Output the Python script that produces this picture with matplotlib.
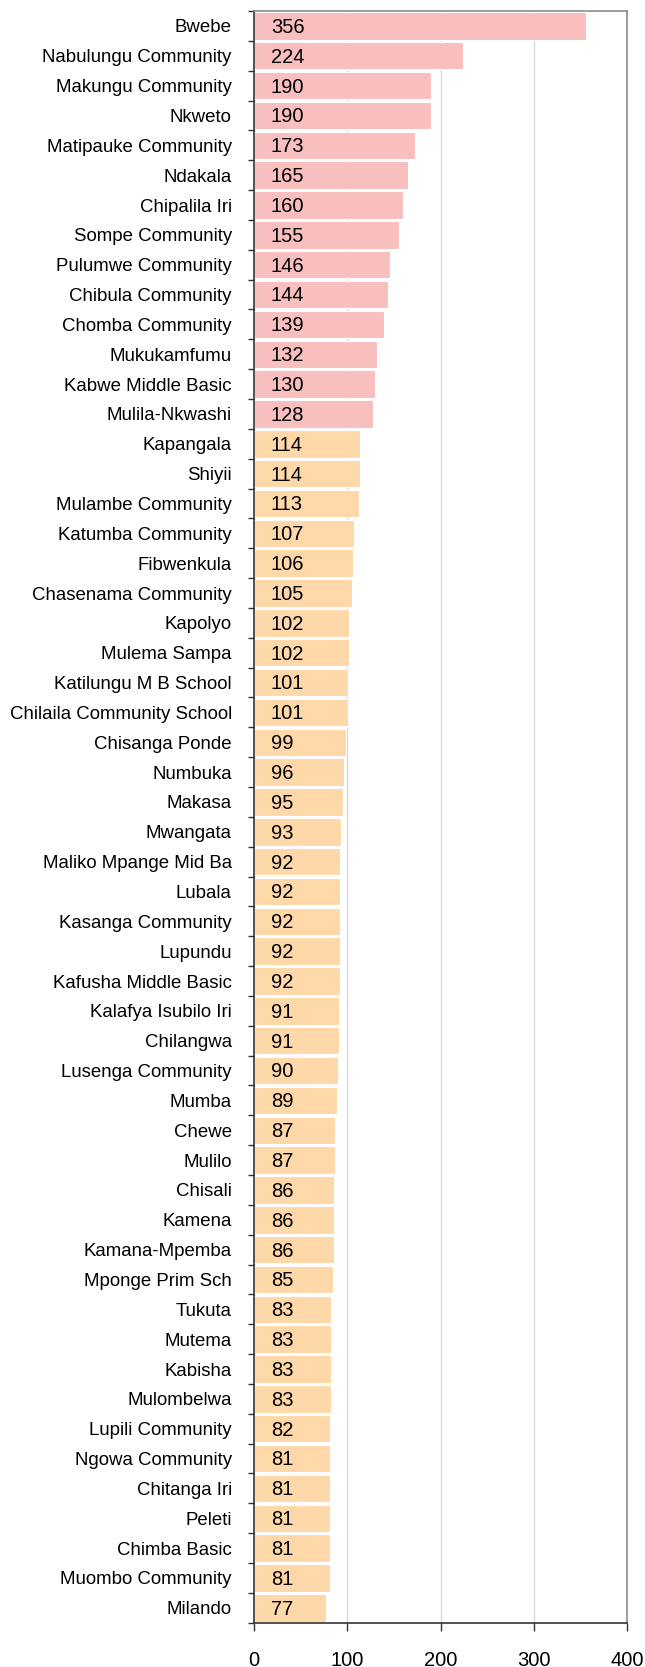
import matplotlib
matplotlib.use("Agg")
import matplotlib.pyplot as plt
from matplotlib.ticker import FixedLocator
import numpy as np

categories = ["Bwebe", "Nabulungu Community", "Makungu Community", "Nkweto",
              "Matipauke Community", "Ndakala", "Chipalila Iri", "Sompe Community",
              "Pulumwe Community", "Chibula Community", "Chomba Community",
              "Mukukamfumu", "Kabwe Middle Basic", "Mulila-Nkwashi",
              "Kapangala", "Shiyii", "Mulambe Community", "Katumba Community",
              "Fibwenkula", "Chasenama Community", "Kapolyo", "Mulema Sampa",
              "Katilungu M B School", "Chilaila Community School", "Chisanga Ponde",
              "Numbuka", "Makasa", "Mwangata", "Maliko Mpange Mid Ba", "Lubala",
              "Kasanga Community", "Lupundu", "Kafusha Middle Basic",
              "Kalafya Isubilo Iri", "Chilangwa", "Lusenga Community", "Mumba",
              "Chewe", "Mulilo", "Chisali", "Kamena", "Kamana-Mpemba",
              "Mponge Prim Sch", "Tukuta", "Mutema", "Kabisha", "Mulombelwa",
              "Lupili Community", "Ngowa Community", "Chitanga Iri", "Peleti",
              "Chimba Basic", "Muombo Community", "Milando"]
values = [356, 224, 190, 190, 173, 165, 160, 155, 146, 144, 139, 132, 130, 128,
          114, 114, 113, 107, 106, 105, 102, 102, 101, 101, 99, 96, 95, 93, 92,
          92, 92, 92, 92, 91, 91, 90, 89, 87, 87, 86, 86, 86, 85, 83, 83, 83, 83,
          82, 81, 81, 81, 81, 81, 77]
groups = ["high"] * 14 + ["normal"] * 40
x_ticks = [0, 100, 200, 300, 400]

group_colors = {"high": "#F9BFBE", "normal": "#FFD8A9"}
plt.rcParams["font.family"] = ["Liberation Sans", "DejaVu Sans"]

W, H = 645, 1667
left, right, top, bottom = 254, 627, 11, 1622.7
fig = plt.figure(figsize=(W / 100, H / 100), dpi=100)
ax = fig.add_axes([left / W, 1 - bottom / H, (right - left) / W, (bottom - top) / H])

n = len(categories)
y = np.arange(n)
ax.barh(y, values, height=0.92, color=[group_colors[g] for g in groups],
        edgecolor="white", linewidth=0.8, zorder=2)
for yi, v in zip(y, values):
    ax.annotate(str(v), (0, yi), xytext=(12.2, -1), textcoords="offset points",
                ha="left", va="center", fontsize=14.5, color="black", zorder=3)

ax.set_xlim(0, 400)
ax.set_ylim(n - 0.5, -0.5)
ax.set_xticks(x_ticks)
ax.set_xticklabels([str(t) for t in x_ticks], fontsize=14.5)
ax.set_yticks(y)
ax.set_yticklabels(categories, fontsize=13.4)
ax.yaxis.set_minor_locator(FixedLocator(np.arange(n + 1) - 0.5))
ax.tick_params(axis="y", which="major", length=0, pad=16)
ax.tick_params(axis="y", which="minor", length=4, width=1, color="#333333")
ax.tick_params(axis="x", which="major", length=6, width=1, color="#333333", pad=14.5)

ax.grid(axis="x", color="#D9D9D9", linewidth=1, zorder=0)
ax.set_axisbelow(True)
ax.spines["left"].set_color("#333333")
ax.spines["bottom"].set_color("#333333")
ax.spines["top"].set_color("#8C8C8C")
ax.spines["right"].set_color("#8C8C8C")
for s in ax.spines.values():
    s.set_linewidth(1.2)

fig.savefig("out.png", dpi=100)
